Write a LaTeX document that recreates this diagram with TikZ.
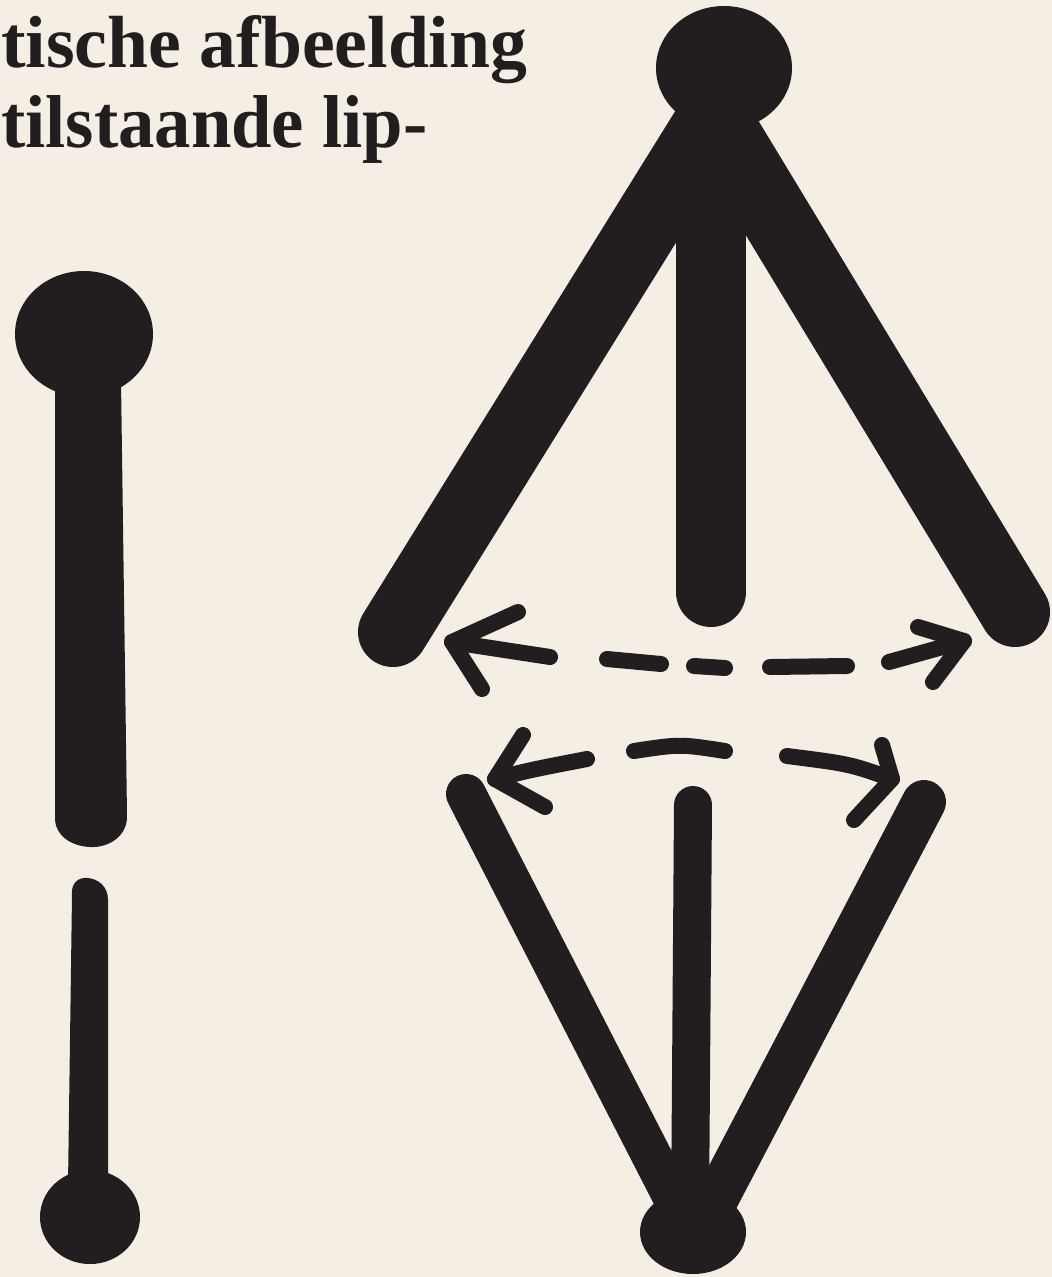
\documentclass[tikz,border=0pt]{standalone}
\usepackage{fontspec}
\setmainfont{Liberation Serif}
\usepackage{graphicx}
\definecolor{paper}{RGB}{244,238,228}
\definecolor{ink}{RGB}{34,30,32}
\tikzset{
  limb/.style={draw=ink, line cap=round, line join=round},
  fatleg/.style={limb, line width=70pt},
  thinleg/.style={limb, line width=40pt},
  arrowstroke/.style={limb, line width=16pt},
  blob/.style={fill=ink, draw=none},
  caption/.style={anchor=base west, inner sep=0pt, text=ink}
}
\begin{document}
\begin{tikzpicture}[x=1pt,y=-1pt]
\fill[paper] (0,0) rectangle (1052,1277);
\useasboundingbox (0,0) rectangle (1052,1277);

% caption text
\node[caption] (line1) at (1,67) {\resizebox{526pt}{52pt}{\bfseries tische afbeelding}};
\node[caption] (line2) at (1,147) {\resizebox{426pt}{52pt}{\bfseries tilstaande lip-}};

% ---------- left figure ----------
\fill[blob] (84,334) ellipse [x radius=69, y radius=63];
\fill[blob] (55,380) -- (121,380) -- (127,815)
  .. controls (128,835) and (110,848) .. (90,847)
  .. controls (70,846) and (56,835) .. (55,820) -- cycle;
\fill[blob] (72,895) .. controls (71,883) and (78,877) .. (88,878)
  .. controls (98,879) and (108,886) .. (108,900)
  -- (108,1185) -- (68,1185) -- cycle;
\fill[blob] (90,1217) ellipse [x radius=50, y radius=47];

% ---------- upper right figure ----------
\coordinate (apex) at (714,115);
\coordinate (apexM) at (711,160);
\coordinate (legL) at (393,632);
\coordinate (legM) at (711,592);
\coordinate (legR) at (1015,612);
\draw[fatleg] (apex) -- (legL);
\draw[fatleg] (apexM) -- (legM);
\draw[fatleg] (apex) -- (legR);
\fill[blob] (724,68) ellipse [x radius=68, y radius=62];

% upper dashed double arrow
\coordinate (uaL) at (452,642);
\coordinate (uaR) at (964,641);
\draw[arrowstroke] (518,612) -- (uaL) -- (482,689);
\draw[arrowstroke] (uaL) -- (550,657);
\draw[arrowstroke] (607,659) -- (661,664);
\draw[arrowstroke] (694,666) -- (725,668);
\draw[arrowstroke] (770,667) -- (847,666);
\draw[arrowstroke] (889,662) -- (uaR);
\draw[arrowstroke] (918,627) -- (uaR) -- (933,682);

% lower dashed double arrow
\coordinate (laL) at (495,779);
\coordinate (laR) at (892,779);
\draw[arrowstroke] (523,735) -- (laL) -- (545,807);
\draw[arrowstroke] (laL) .. controls (530,770) .. (587,759);
\draw[arrowstroke] (634,751) .. controls (680,744) .. (725,751);
\draw[arrowstroke] (787,756) .. controls (850,764) .. (laR);
\draw[arrowstroke] (882,745) -- (laR) -- (854,820);

% ---------- lower V figure ----------
\coordinate (vL) at (466,794);
\coordinate (vM) at (693,805);
\coordinate (vR) at (924,802);
\draw[thinleg] (vL) -- (682,1215);
\draw[thinleg, line width=38pt] (vM) -- (690,1215);
\draw[thinleg, line width=44pt] (vR) -- (708,1215);
\fill[blob] (693,1232) ellipse [x radius=53, y radius=42];
\end{tikzpicture}
\end{document}
